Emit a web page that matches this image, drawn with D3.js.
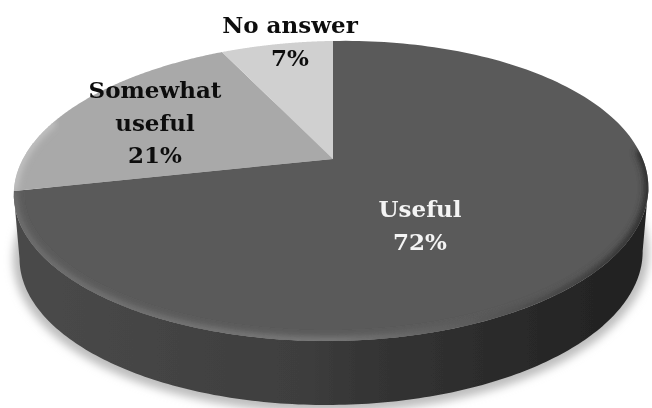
<!DOCTYPE html>
<html><head><meta charset="utf-8">
<script src="https://cdn.jsdelivr.net/npm/d3@7"></script>
<style>html,body{margin:0;padding:0;background:#fff}svg{display:block}</style>
</head><body><div id="c"></div>
<script>
const categories = ["Useful", "Somewhat useful", "No answer"];
const values = [72, 21, 7];
const labelLines = [["Useful", "72%"], ["Somewhat", "useful", "21%"], ["No answer", "7%"]];
const faceColors = ["#5a5a5a", "#a9a9a9", "#d0d0d0"];
const labelColors = ["#f4f4f4", "#111", "#111"];
const labelAnchors = [[420, 217], [155, 98], [290, 33]];

const W = 652, H = 408;
const cx = 333, cy = 159, k = 0.213, t = 143.2, s = 310, depth = 64, lowScale = 0.982;
const svg = d3.select("#c").append("svg").attr("width", W).attr("height", H);
const defs = svg.append("defs");

const project = (a, r = 1, dy = 0, sx = 1) => {
  const w = 1 + k * r * Math.cos(a), sn = Math.sin(a);
  return [cx - 2 * r * sn * sn + sx * s * r * sn / w,
          cy - t * r * Math.cos(a) / w - 4 * r * sn + dy];
};
const line = d3.line();
const arcPts = (a0, a1, dy = 0, sx = 1) =>
  d3.range(0, 181).map(i => project(a0 + (a1 - a0) * i / 180, 1, dy, sx));

const blur = (id, sd) => defs.append("filter").attr("id", id)
  .attr("x", "-10%").attr("y", "-20%").attr("width", "120%").attr("height", "140%")
  .append("feGaussianBlur").attr("stdDeviation", sd);
blur("shadow", 4); blur("rim", 3); blur("soft", 0.45);

const wallGrad = defs.append("linearGradient").attr("id", "wall");
[[0, "#4a4a4a"], [0.45, "#3e3e3e"], [0.55, "#353535"], [1, "#202020"]].forEach(d =>
  wallGrad.append("stop").attr("offset", d[0]).attr("stop-color", d[1]));
const rimGrad = defs.append("linearGradient").attr("id", "rimG");
[[0, "#707070"], [0.5, "#7c7c7c"], [0.72, "#5c5c5c"], [1, "#2a2a2a"]].forEach(d =>
  rimGrad.append("stop").attr("offset", d[0]).attr("stop-color", d[1]));

const pie = d3.pie().sort(null).value(d => d);
const arcs = pie(values);

// soft ground shadow
svg.append("path").attr("d", line(arcPts(0, 2 * Math.PI, depth + 1, lowScale)) + "Z")
  .attr("fill", "#bdbdbd").attr("stroke", "#bdbdbd").attr("stroke-width", 13)
  .attr("filter", "url(#shadow)");

const root = svg.append("g").attr("filter", "url(#soft)");

// side wall: front half of the rim, swept down by the depth
const aL = 2 * Math.PI - Math.acos(-k), aR = Math.acos(-k);
const front = arcPts(aR, aL);
const frontLow = arcPts(aR, aL, depth, lowScale).reverse();
root.append("path").attr("d", line(front.concat(frontLow)) + "Z").attr("fill", "url(#wall)");

// top face slices
const slicePts = d => [[cx, cy]].concat(arcPts(d.startAngle, d.endAngle));
defs.append("clipPath").attr("id", "faceClip").append("path").attr("d", line(slicePts(arcs[0])) + "Z");
defs.append("clipPath").attr("id", "backClip").append("path").attr("d", line(slicePts(arcs[1])) + "Z");
root.selectAll("path.slice").data(arcs).join("path").attr("class", "slice")
  .attr("d", d => line(slicePts(d)) + "Z")
  .attr("fill", (d, i) => faceColors[i]);

// bevel on the front rim of the largest slice, and a light one on the next
root.append("g").attr("clip-path", "url(#faceClip)")
  .append("path").attr("d", line(arcPts(aR - 0.25, arcs[0].endAngle)))
  .attr("fill", "none").attr("stroke", "url(#rimG)").attr("stroke-width", 8)
  .attr("filter", "url(#rim)");
root.append("g").attr("clip-path", "url(#backClip)")
  .append("path").attr("d", line(arcPts(arcs[1].startAngle, arcs[1].startAngle + 0.5)))
  .attr("fill", "none").attr("stroke", "#c4c4c4").attr("stroke-width", 7)
  .attr("filter", "url(#rim)");

// labels
svg.selectAll("text.lab").data(labelLines).join("text").attr("class", "lab")
  .attr("x", (d, i) => labelAnchors[i][0]).attr("y", (d, i) => labelAnchors[i][1])
  .attr("text-anchor", "middle").attr("fill", (d, i) => labelColors[i])
  .attr("font-family", "'DejaVu Serif', serif").attr("font-weight", "bold").attr("font-size", 23)
  .attr("filter", "url(#soft)")
  .selectAll("tspan").data((d, i) => d.map(l => [l, i])).join("tspan")
  .attr("x", function () { return d3.select(this.parentNode).attr("x"); })
  .attr("dy", (d, j) => j ? 32.5 : 0)
  .text(d => d[0]);
</script></body></html>
